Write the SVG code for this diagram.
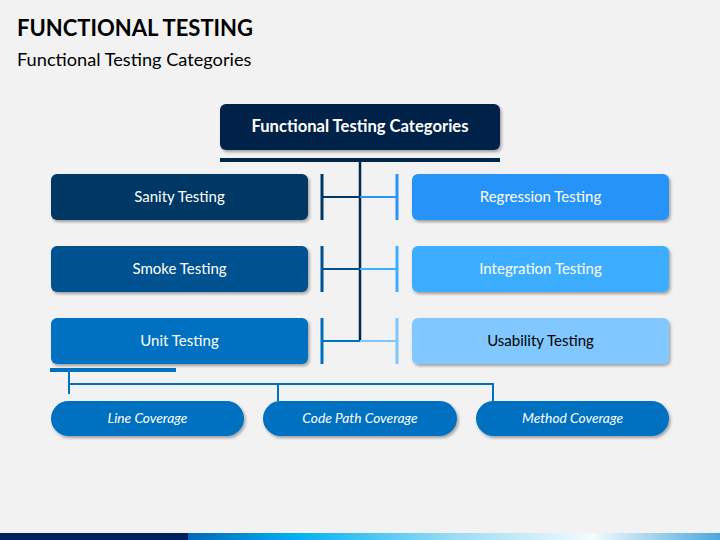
<svg xmlns="http://www.w3.org/2000/svg" width="720" height="540" viewBox="0 0 720 540">
<defs>
<filter id="sh" x="-10%" y="-20%" width="120%" height="150%">
<feDropShadow dx="1.5" dy="2" stdDeviation="1.5" flood-color="#000" flood-opacity="0.35"/>
</filter>
<linearGradient id="bar" x1="0" y1="0" x2="1" y2="0">
<stop offset="0" stop-color="#0068B8"/>
<stop offset="0.2" stop-color="#00B0F0"/>
<stop offset="0.5" stop-color="#9BDCF5"/>
<stop offset="0.76" stop-color="#F4FBFE"/>
<stop offset="1" stop-color="#4AA8DC"/>
</linearGradient>
</defs>
<style>
.t{font-family:Lato,"Liberation Sans",sans-serif;text-anchor:middle;}
.w{fill:#fff;font-size:15px;}
.p{fill:#fff;font-size:13.8px;font-style:italic;}
.cn{fill:none;stroke-width:3;}
</style>
<rect width="720" height="540" fill="#F2F2F2"/>
<text x="17" y="36" font-family="Lato,'Liberation Sans',sans-serif" font-weight="bold" font-size="22" fill="#000">FUNCTIONAL TESTING</text>
<text x="17" y="66" font-family="Lato,'Liberation Sans',sans-serif" font-size="18.2" fill="#000">Functional Testing Categories</text>
<rect x="0" y="533" width="188" height="7" fill="#002060"/>
<rect x="188" y="533" width="532" height="7" fill="url(#bar)"/>

<g id="connectors">
<rect x="220" y="158" width="280" height="4" fill="#00264D"/>
<line x1="360" y1="162" x2="360" y2="342" stroke="#00264D" stroke-width="2.5"/>
<line x1="322" y1="174" x2="322" y2="220" stroke="#003865" class="cn"/>
<line x1="322" y1="197" x2="360" y2="197" stroke="#003865" stroke-width="2"/>
<line x1="360" y1="197" x2="397" y2="197" stroke="#2893F8" stroke-width="2"/>
<line x1="397" y1="174" x2="397" y2="220" stroke="#2893F8" class="cn"/>
<line x1="322" y1="246" x2="322" y2="292" stroke="#00518F" class="cn"/>
<line x1="322" y1="269" x2="360" y2="269" stroke="#00518F" stroke-width="2"/>
<line x1="360" y1="269" x2="397" y2="269" stroke="#3DAEFF" stroke-width="2"/>
<line x1="397" y1="246" x2="397" y2="292" stroke="#3DAEFF" class="cn"/>
<line x1="322" y1="318" x2="322" y2="364" stroke="#0070C0" class="cn"/>
<line x1="322" y1="341" x2="360" y2="341" stroke="#0070C0" stroke-width="2"/>
<line x1="360" y1="341" x2="397" y2="341" stroke="#7FC7FF" stroke-width="2"/>
<line x1="397" y1="318" x2="397" y2="364" stroke="#7FC7FF" class="cn"/>
<rect x="50" y="368" width="126" height="4" fill="#0070C0"/>
<polyline points="69,372 69,394" fill="none" stroke="#0070C0" stroke-width="2"/>
<polyline points="69,384 493,384 493,401" fill="none" stroke="#0070C0" stroke-width="2"/>
<line x1="278" y1="384" x2="278" y2="401" stroke="#0070C0" stroke-width="2"/>
</g>

<g id="root">
<rect x="220" y="104" width="280" height="46" rx="6" fill="#00234A" filter="url(#sh)"/>
<text x="360" y="132" class="t" fill="#fff" font-size="16.6" font-weight="bold">Functional Testing Categories</text>
</g>
<g id="sanity">
<rect x="51" y="174" width="257" height="46" rx="6" fill="#003865" filter="url(#sh)"/>
<text x="179.5" y="202" class="t w">Sanity Testing</text>
</g>
<g id="smoke">
<rect x="51" y="246" width="257" height="46" rx="6" fill="#00518F" filter="url(#sh)"/>
<text x="179.5" y="274" class="t w">Smoke Testing</text>
</g>
<g id="unit">
<rect x="51" y="318" width="257" height="46" rx="6" fill="#0070C0" filter="url(#sh)"/>
<text x="179.5" y="346" class="t w">Unit Testing</text>
</g>
<g id="regression">
<rect x="412" y="174" width="257" height="46" rx="6" fill="#2893F8" filter="url(#sh)"/>
<text x="540.5" y="202" class="t w">Regression Testing</text>
</g>
<g id="integration">
<rect x="412" y="246" width="257" height="46" rx="6" fill="#3DAEFF" filter="url(#sh)"/>
<text x="540.5" y="274" class="t w">Integration Testing</text>
</g>
<g id="usability">
<rect x="412" y="318" width="257" height="46" rx="6" fill="#80C8FF" filter="url(#sh)"/>
<text x="540.5" y="346" class="t" fill="#000" font-size="15">Usability Testing</text>
</g>
<g id="line-coverage">
<rect x="51" y="401" width="193" height="35" rx="17.5" fill="#0070C0" filter="url(#sh)"/>
<text x="147.5" y="423" class="t p">Line Coverage</text>
</g>
<g id="code-path-coverage">
<rect x="263" y="401" width="194" height="35" rx="17.5" fill="#0070C0" filter="url(#sh)"/>
<text x="360" y="423" class="t p">Code Path Coverage</text>
</g>
<g id="method-coverage">
<rect x="476" y="401" width="193" height="35" rx="17.5" fill="#0070C0" filter="url(#sh)"/>
<text x="572.5" y="423" class="t p">Method Coverage</text>
</g>
</svg>
